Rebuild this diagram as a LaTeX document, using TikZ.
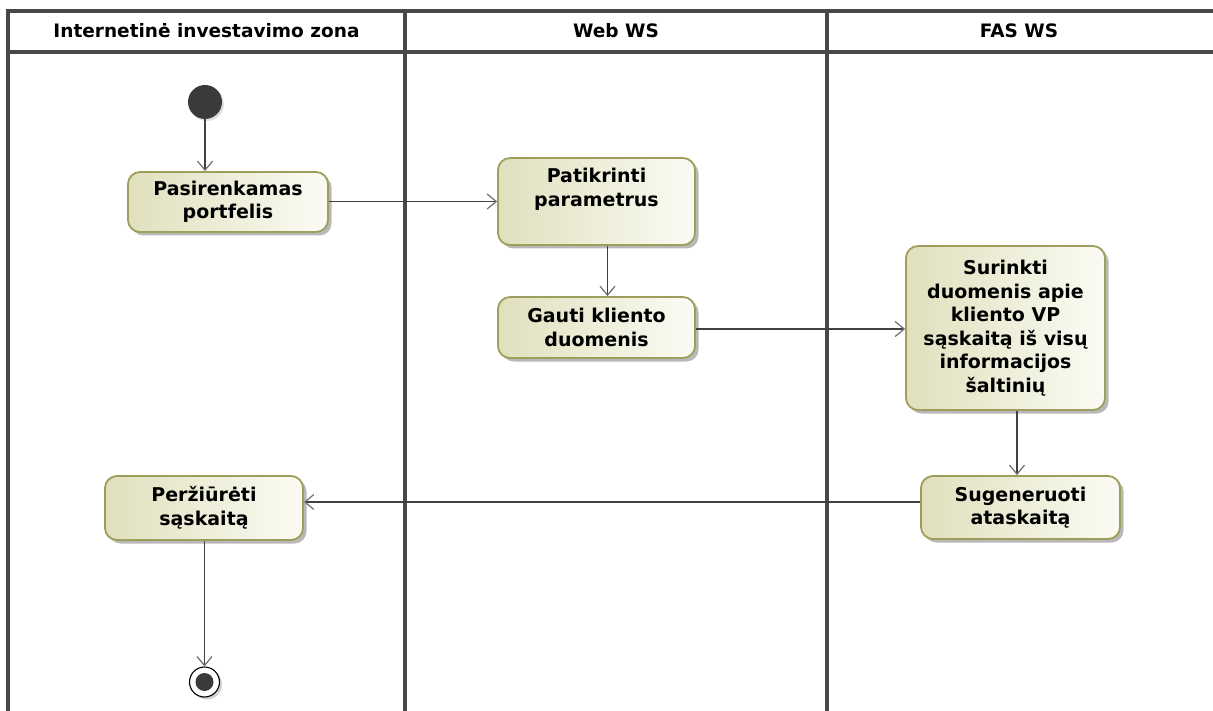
\documentclass[tikz,border=0pt]{standalone}
\usepackage{fontspec}
\setmainfont{DejaVu Sans}
\usetikzlibrary{arrows.meta,shadows,calc}

\definecolor{laneline}{RGB}{72,72,72}
\definecolor{actborder}{RGB}{158,158,92}
\definecolor{actleft}{RGB}{224,224,190}
\definecolor{actright}{RGB}{251,251,244}
\definecolor{flowline}{RGB}{64,64,64}
\definecolor{tipcol}{RGB}{110,110,110}
\definecolor{dot}{RGB}{58,58,58}

\tikzset{
  lane/.style={draw=laneline, line width=3.2pt},
  lanehead/.style={font=\bfseries\fontsize{18.5}{22}\selectfont, text=black},
  action/.style={rounded corners=12pt, draw=actborder, line width=1.8pt,
    left color=actleft, right color=actright,
    drop shadow={shadow xshift=3.5pt, shadow yshift=-3.5pt, fill=black!35, opacity=0.8},
    align=center, inner sep=4pt,
    font=\bfseries\fontsize{19}{23.5}\selectfont, text=black},
  startnode/.style={circle, fill=dot, minimum size=34pt, inner sep=0pt,
    drop shadow={shadow xshift=2pt, shadow yshift=-2pt, fill=black!20, opacity=0.6}},
  endnode/.style={circle, draw=black, line width=1.1pt, fill=white,
    minimum size=30pt, inner sep=0pt,
    drop shadow={shadow xshift=2.5pt, shadow yshift=-2.5pt, fill=black!25, opacity=0.7},
    path picture={\fill[dot] (path picture bounding box.center) circle (9pt);}},
  flow/.style={draw=flowline, line width=1.3pt,
    -{Straight Barb[length=9pt, width=15pt, line width=1.2pt, color=tipcol]}},
}

\begin{document}
\begin{tikzpicture}[x=1pt, y=-1pt]
  \useasboundingbox (0,0) rectangle (1213,711);

  % swimlane frame
  \draw[lane] (8,720) -- (8,11) -- (1220,11);
  \draw[lane] (8,52) -- (1220,52);
  \draw[lane] (405,11) -- (405,720);
  \draw[lane] (827,11) -- (827,720);

  % lane headings
  \node[lanehead] (h1) at (206.5,31) {Internetinė investavimo zona};
  \node[lanehead] (h2) at (616,31) {Web WS};
  \node[lanehead] (h3) at (1019,31) {FAS WS};

  % activity nodes
  \node[startnode] (init) at (205,102) {};
  \node[action, minimum width=200pt, minimum height=60pt] (n1) at (228,202)
    {Pasirenkamas\\portfelis};
  \node[action, minimum width=197pt, minimum height=87pt] (n2) at (596.5,201.5)
    {\parbox[c][66pt][t]{185pt}{\centering Patikrinti\\parametrus}};
  \node[action, minimum width=197pt, minimum height=61pt] (n3) at (596.5,327.5)
    {Gauti kliento\\duomenis};
  \node[action, minimum width=199pt, minimum height=164pt] (n4) at (1005.5,328)
    {Surinkti\\duomenis apie\\kliento VP\\sąskaitą iš visų\\informacijos\\šaltinių};
  \node[action, minimum width=199pt, minimum height=63pt] (n5) at (1020.5,507.5)
    {Sugeneruoti\\ataskaitą};
  \node[action, minimum width=198pt, minimum height=64pt] (n6) at (204,508)
    {Peržiūrėti\\sąskaitą};
  \node[endnode] (final) at (204.5,682) {};

  % control flows
  \draw[flow] (init) -- (init |- n1.north);
  \draw[flow] ([yshift=0.5pt]n1.east) -- ([yshift=0.5pt]n1.east -| n2.west);
  \draw[flow] ([xshift=11pt]n2.south) -- ([xshift=11pt]n3.north);
  \draw[flow] ([yshift=-1.5pt]n3.east) -- ([yshift=-1.5pt]n3.east -| n4.west);
  \draw[flow] ([xshift=11.5pt]n4.south) -- ([xshift=11.5pt]n4.south |- n5.north);
  \draw[flow] ([yshift=5.5pt]n5.west) -- ([yshift=5.5pt]n5.west -| n6.east);
  \draw[flow] (n6.south -| final) -- (final);
\end{tikzpicture}
\end{document}
